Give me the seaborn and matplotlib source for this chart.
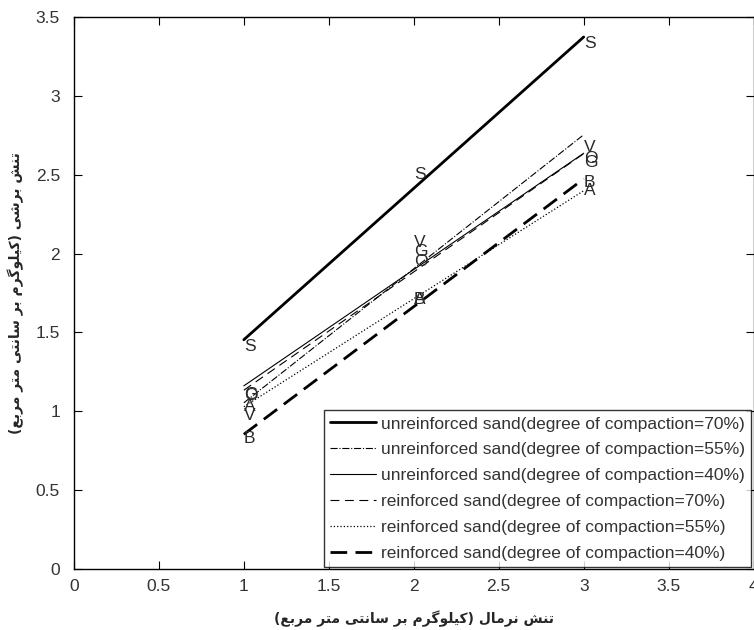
import matplotlib
matplotlib.use("Agg")
import matplotlib.pyplot as plt
import pandas as pd
import seaborn as sns

# normal stress (x) and shear stress (y) per test series
normal_stress = [1, 2, 3]
unreinf_70 = [1.41, 2.50, 3.33]
unreinf_55 = [0.97, 2.07, 2.67]
unreinf_40 = [1.105, 2.01, 2.58]
reinf_70 = [1.10, 1.95, 2.60]
reinf_55 = [1.03, 1.71, 2.40]
reinf_40 = [0.83, 1.71, 2.45]

series_labels = [
    "unreinforced sand(degree of compaction=70%)",
    "unreinforced sand(degree of compaction=55%)",
    "unreinforced sand(degree of compaction=40%)",
    "reinforced sand(degree of compaction=70%)",
    "reinforced sand(degree of compaction=55%)",
    "reinforced sand(degree of compaction=40%)",
]
point_letters = ["S", "V", "G", "O", "A", "B"]

xlabel_fa = "تنش نرمال (کیلوگرم بر سانتی متر مربع)"
ylabel_fa = "تنش برشی (کیلوگرم بر سانتی متر مربع)"


def shape_fa(text):
    # simple contextual shaping + visual reordering for the persian labels
    forms = {
        "ا": ("\uFE8D", "\uFE8E"),
        "ر": ("\uFEAD", "\uFEAE"),
        "و": ("\uFEED", "\uFEEE"),
        "ب": ("\uFE8F", "\uFE90", "\uFE91", "\uFE92"),
        "ت": ("\uFE95", "\uFE96", "\uFE97", "\uFE98"),
        "س": ("\uFEB1", "\uFEB2", "\uFEB3", "\uFEB4"),
        "ش": ("\uFEB5", "\uFEB6", "\uFEB7", "\uFEB8"),
        "ع": ("\uFEC9", "\uFECA", "\uFECB", "\uFECC"),
        "ل": ("\uFEDD", "\uFEDE", "\uFEDF", "\uFEE0"),
        "م": ("\uFEE1", "\uFEE2", "\uFEE3", "\uFEE4"),
        "ن": ("\uFEE5", "\uFEE6", "\uFEE7", "\uFEE8"),
        "ی": ("\uFBFC", "\uFBFD", "\uFBFE", "\uFBFF"),
        "ک": ("\uFB8E", "\uFB8F", "\uFB90", "\uFB91"),
        "گ": ("\uFB92", "\uFB93", "\uFB94", "\uFB95"),
    }
    out = []
    for i, ch in enumerate(text):
        if ch not in forms:
            out.append(ch)
            continue
        prev = text[i - 1] if i > 0 else ""
        nxt = text[i + 1] if i + 1 < len(text) else ""
        jp = prev in forms and len(forms[prev]) == 4
        jn = nxt in forms and len(forms[ch]) == 4
        f = forms[ch]
        if len(f) == 2:
            out.append(f[1] if jp else f[0])
        else:
            out.append(f[{(False, False): 0, (True, False): 1, (False, True): 2, (True, True): 3}[(jp, jn)]])
    vis = "".join(reversed(out))
    return vis.translate(str.maketrans("()", ")("))


all_values = [unreinf_70, unreinf_55, unreinf_40, reinf_70, reinf_55, reinf_40]
styles = [
    dict(ls="-", lw=2.0),
    dict(ls="-.", lw=0.8),
    dict(ls="-", lw=0.8),
    dict(ls=(0, (8, 5)), lw=0.8),
    dict(ls=":", lw=0.9),
    dict(ls=(0, (6, 3)), lw=2.0),
]

sns.set_style("ticks")
plt.rcParams["font.family"] = ["Liberation Sans", "DejaVu Sans"]

fig = plt.figure(figsize=(7.54, 6.3), dpi=100)
ax = fig.add_axes([0.098, 0.097, 0.9015, 0.876])

for vals, lab, st, letter in zip(all_values, series_labels, styles, point_letters):
    df = pd.DataFrame({"x": normal_stress, "y": vals})
    sns.regplot(data=df, x="x", y="y", ax=ax, scatter=False, ci=None, truncate=True,
                color="black", line_kws=st, label=lab)
    for xv, yv in zip(normal_stress, vals):
        ax.text(xv, yv, letter, ha="left", va="center", fontsize=12.5, color="#2a2a2a")

ax.set_xlim(0, 4)
ax.set_ylim(0, 3.5)
ax.set_xticks([0, 0.5, 1, 1.5, 2, 2.5, 3, 3.5, 4])
ax.set_xticklabels(["0", "0.5", "1", "1.5", "2", "2.5", "3", "3.5", "4"])
ax.set_yticks([0, 0.5, 1, 1.5, 2, 2.5, 3, 3.5])
ax.set_yticklabels(["0", "0.5", "1", "1.5", "2", "2.5", "3", "3.5"])
ax.tick_params(direction="in", length=6, width=0.8, top=True, right=True,
               labelsize=12.5, colors="black", labelcolor="#333333")
ax.tick_params(axis="y", pad=10)
ax.tick_params(axis="x", pad=7)
for sp in ax.spines.values():
    sp.set_visible(True)
    sp.set_linewidth(1.0)
    sp.set_color("black")

ax.set_xlabel(shape_fa(xlabel_fa), family=["DejaVu Sans"], fontweight="bold", fontsize=10)
ax.set_ylabel(shape_fa(ylabel_fa), family=["DejaVu Sans"], fontweight="bold", fontsize=10)
ax.xaxis.set_label_coords(0.5, -0.075)
ax.yaxis.set_label_coords(-0.074, 0.5)

leg = ax.legend(loc="lower right", bbox_to_anchor=(0.996, 0.003), fontsize=12.5,
                handlelength=2.6, handletextpad=0.3, labelspacing=0.62,
                borderpad=0.35, frameon=True, fancybox=False, borderaxespad=0)
leg.get_frame().set_edgecolor("black")
leg.get_frame().set_linewidth(1.0)
for t in leg.get_texts():
    t.set_color("#333333")

fig.savefig("out.png", dpi=100, facecolor="white")
